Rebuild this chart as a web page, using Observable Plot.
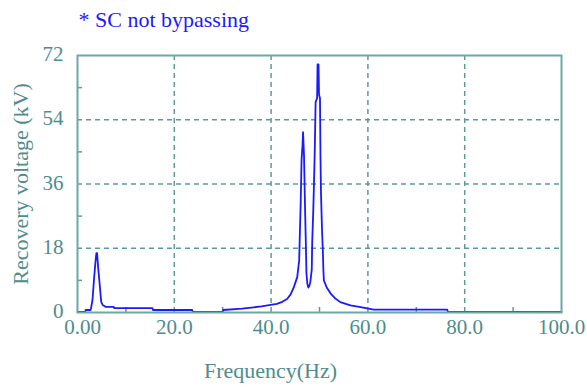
<!DOCTYPE html>
<html>
<head>
<meta charset="utf-8">
<script src="https://cdn.jsdelivr.net/npm/d3@7"></script>
<script src="https://cdn.jsdelivr.net/npm/@observablehq/plot@0.6"></script>
<style>
  html, body { margin: 0; padding: 0; background: #fff; }
</style>
</head>
<body>
<div id="chart"></div>
<script>
// Recovery voltage spectrum, SC not bypassing
const freq = [0, 1.6, 1.7, 2.7, 2.8, 3.1, 3.4, 3.7, 3.9, 4.05, 4.3, 4.5, 4.9, 5.2, 5.8, 7.5, 7.6, 15.5, 15.6, 23.7, 23.8, 30, 30.1, 34, 38, 41.2, 42.3, 43.3, 44.0, 44.7, 45.4, 45.8, 45.9, 46.1, 46.3, 46.5, 46.6, 46.8, 47.0, 47.2, 47.3, 47.5, 47.7, 47.9, 48.1, 48.4, 48.5, 48.7, 48.8, 49.0, 49.2, 49.5, 49.6, 49.8, 49.9, 50.1, 50.2, 50.3, 50.5, 50.7, 50.8, 50.9, 51.5, 52.3, 53.2, 54.3, 56.4, 58.5, 61.2, 76.4, 76.5, 100];
const voltage = [0.2, 0.2, 0.7, 0.7, 1.2, 3.5, 9.1, 14, 16.6, 16.6, 12, 9.1, 3.0, 2.1, 1.6, 1.6, 1.2, 1.2, 0.7, 0.7, 0.2, 0.2, 0.7, 1.1, 1.7, 2.4, 3.0, 3.8, 5.0, 7.1, 9.9, 14.6, 20, 30, 43, 47, 50.5, 44, 30, 18, 11, 8, 7, 7.5, 8.5, 12, 20, 28, 33, 44, 59, 60, 69.5, 69.5, 61, 60, 44, 34, 24, 17, 12, 9, 7, 5.3, 4.0, 2.9, 2.0, 1.5, 0.8, 0.8, 0.2, 0.2];

const xTicks = [0, 20, 40, 60, 80, 100];
const yTicks = [0, 18, 36, 54, 72];
const xGrid = [20, 40, 60, 80];
const yGrid = [18, 36, 54];
const xMinor = [10, 30, 50, 70, 90];
const yMinor = [9, 27, 45, 63];

const titleText = "* SC not bypassing";
const xLabel = "Frequency(Hz)";
const yLabel = "Recovery voltage (kV)";

const data = freq.map((f, i) => ({f, v: voltage[i]}));

const teal = "#4f8c8c";
const gridColor = "#5f9a9a";
const frameColor = "#6fa7a7";
const blue = "#1a1aff";

const W = 587, H = 388;
const mL = 77, mR = 26, mT = 55, mB = 76;
const tick = 5;
const fmtX = d => d === 0 ? "0.00" : d.toFixed(1);

const chart = Plot.plot({
  width: W,
  height: H,
  marginLeft: mL,
  marginRight: mR,
  marginTop: mT,
  marginBottom: mB,
  style: {fontFamily: "'Liberation Serif', 'DejaVu Serif', serif", fontSize: "22px", color: teal, background: "#fff"},
  x: {domain: [0, 100], label: null},
  y: {domain: [0, 72], label: null},
  marks: [
    Plot.ruleX(xGrid, {stroke: gridColor, strokeWidth: 1.5, strokeDasharray: "5,4"}),
    Plot.ruleY(yGrid, {stroke: gridColor, strokeWidth: 1.5, strokeDasharray: "5,4"}),
    Plot.tickX(xMinor, {stroke: gridColor, strokeWidth: 1.5, insetTop: H - mT - mB - tick}),
    Plot.tickY(yMinor, {stroke: gridColor, strokeWidth: 1.5, insetRight: W - mL - mR - tick}),
    Plot.line(data, {x: "f", y: "v", stroke: blue, strokeWidth: 1.8}),
    Plot.frame({stroke: frameColor, strokeWidth: 2}),
    // the origin label sits a little to the right so it clears the "0" of the y axis
    Plot.axisX(xTicks.slice(0, 1), {tickSize: 0, tickPadding: 7, tickFormat: fmtX,
      dx: 5, fontSize: 21, label: null}),
    Plot.axisX(xTicks.slice(1), {tickSize: 0, tickPadding: 7, tickFormat: fmtX,
      fontSize: 21, label: null}),
    Plot.axisY(yTicks, {tickSize: 0, tickPadding: 14, dy: -1, fontSize: 21, label: null}),
    Plot.text([titleText], {frameAnchor: "top-left", dx: 1, dy: -36, textAnchor: "start",
      lineAnchor: "middle", fill: blue, fontSize: 22}),
    Plot.text([xLabel], {frameAnchor: "bottom", dx: -49, dy: 58, textAnchor: "middle",
      lineAnchor: "middle", fill: teal, fontSize: 22}),
    Plot.text([yLabel], {frameAnchor: "left", dx: -57, rotate: -90, textAnchor: "middle",
      lineAnchor: "middle", fill: teal, fontSize: 22})
  ]
});

document.getElementById("chart").appendChild(chart);
</script>
</body>
</html>
